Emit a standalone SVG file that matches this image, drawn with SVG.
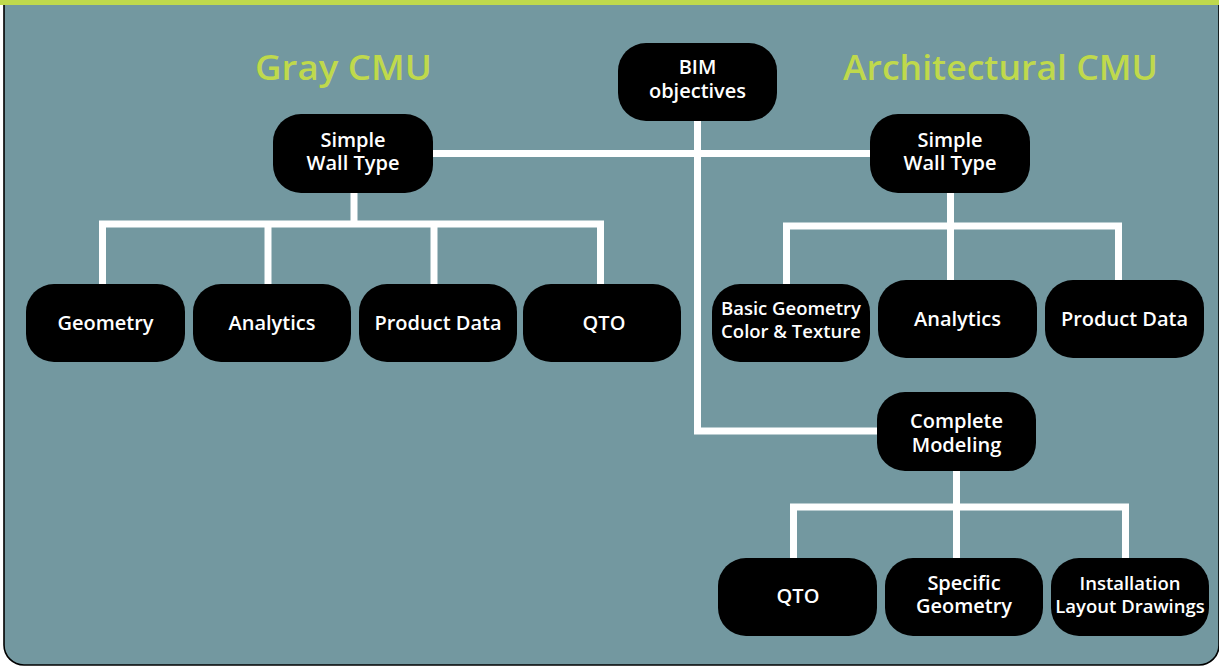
<svg xmlns="http://www.w3.org/2000/svg" width="1219" height="667" viewBox="0 0 1219 667">
  <defs>
    <style>
      .node rect { fill: #000; }
      .node text { fill: #fff; font-family: "Open Sans", "Liberation Sans", sans-serif; font-weight: 600; font-size: 20px; text-anchor: middle; }
      .node text.sm { font-size: 18.5px; }
      .wire { fill: none; stroke: #fff; stroke-width: 7; stroke-linecap: butt; stroke-linejoin: miter; }
      .heading { fill: #BFD94C; font-family: "Open Sans", "Liberation Sans", sans-serif; font-weight: 600; font-size: 34px; text-anchor: middle; }
    </style>
  </defs>

  <!-- background -->
  <rect x="0" y="0" width="1219" height="667" fill="#ffffff"/>
  <path d="M4,4 V645 A20,20 0 0 0 24,665 H1199 A20,20 0 0 0 1219,645 V4 Z" fill="#7398A0" stroke="#000" stroke-width="1.6"/>
  <rect x="0" y="0" width="1219" height="5" fill="#BFD94C"/>

  <!-- section headings -->
  <text class="heading" x="343.5" y="80" textLength="177" lengthAdjust="spacingAndGlyphs">Gray CMU</text>
  <text class="heading" x="1000.5" y="80" textLength="315" lengthAdjust="spacingAndGlyphs">Architectural CMU</text>

  <!-- connectors -->
  <g id="connectors">
    <!-- trunk -->
    <line class="wire" x1="433" y1="153.5" x2="870" y2="153.5"/>
    <path class="wire" d="M697.5,121 V431 H877"/>
    <!-- gray CMU branch -->
    <line class="wire" x1="354" y1="193" x2="354" y2="224"/>
    <path class="wire" d="M102.5,284 V224 H600.5 V284"/>
    <line class="wire" x1="268" y1="224" x2="268" y2="284"/>
    <line class="wire" x1="434" y1="224" x2="434" y2="284"/>
    <!-- architectural CMU branch -->
    <line class="wire" x1="950.5" y1="193" x2="950.5" y2="226"/>
    <path class="wire" d="M786.5,284 V226 H1118.5 V281"/>
    <line class="wire" x1="950.5" y1="226" x2="950.5" y2="281"/>
    <!-- complete modeling branch -->
    <line class="wire" x1="956.5" y1="471" x2="956.5" y2="507"/>
    <path class="wire" d="M793.5,559 V507 H1125.5 V559"/>
    <line class="wire" x1="956.5" y1="507" x2="956.5" y2="559"/>
  </g>

  <!-- root -->
  <g id="bim-objectives" class="node">
    <rect x="618" y="43" width="159" height="78" rx="28"/>
    <text x="697.5" y="74">BIM</text>
    <text x="697.5" y="98">objectives</text>
  </g>

  <!-- gray CMU -->
  <g id="gray-simple-wall" class="node">
    <rect x="273" y="114" width="160" height="79" rx="28"/>
    <text x="353" y="147">Simple</text>
    <text x="353" y="170">Wall Type</text>
  </g>
  <g id="gray-geometry" class="node">
    <rect x="26" y="284" width="159" height="78" rx="28"/>
    <text x="105.5" y="330">Geometry</text>
  </g>
  <g id="gray-analytics" class="node">
    <rect x="193" y="284" width="158" height="78" rx="28"/>
    <text x="272" y="330">Analytics</text>
  </g>
  <g id="gray-product-data" class="node">
    <rect x="359" y="284" width="158" height="78" rx="28"/>
    <text x="438" y="330">Product Data</text>
  </g>
  <g id="gray-qto" class="node">
    <rect x="523" y="284" width="158" height="78" rx="28"/>
    <text x="604" y="330">QTO</text>
  </g>

  <!-- architectural CMU -->
  <g id="arch-simple-wall" class="node">
    <rect x="870" y="114" width="160" height="79" rx="28"/>
    <text x="950" y="147">Simple</text>
    <text x="950" y="170">Wall Type</text>
  </g>
  <g id="arch-basic-geometry" class="node">
    <rect x="712" y="284" width="158" height="78" rx="28"/>
    <text class="sm" x="791" y="315">Basic Geometry</text>
    <text class="sm" x="791" y="338">Color &amp; Texture</text>
  </g>
  <g id="arch-analytics" class="node">
    <rect x="878" y="280" width="159" height="78" rx="28"/>
    <text x="957.5" y="326">Analytics</text>
  </g>
  <g id="arch-product-data" class="node">
    <rect x="1045" y="280" width="159" height="78" rx="28"/>
    <text x="1124.5" y="326">Product Data</text>
  </g>
  <g id="arch-complete-modeling" class="node">
    <rect x="877" y="392" width="159" height="79" rx="28"/>
    <text x="956.5" y="428">Complete</text>
    <text x="956.5" y="452">Modeling</text>
  </g>
  <g id="arch-qto" class="node">
    <rect x="718" y="558" width="159" height="78" rx="28"/>
    <text x="798" y="603">QTO</text>
  </g>
  <g id="arch-specific-geometry" class="node">
    <rect x="885" y="558" width="158" height="78" rx="28"/>
    <text x="964" y="590">Specific</text>
    <text x="964" y="613">Geometry</text>
  </g>
  <g id="arch-installation" class="node">
    <rect x="1051" y="558" width="158" height="78" rx="28"/>
    <text class="sm" x="1130" y="590">Installation</text>
    <text class="sm" x="1130" y="613">Layout Drawings</text>
  </g>
</svg>
